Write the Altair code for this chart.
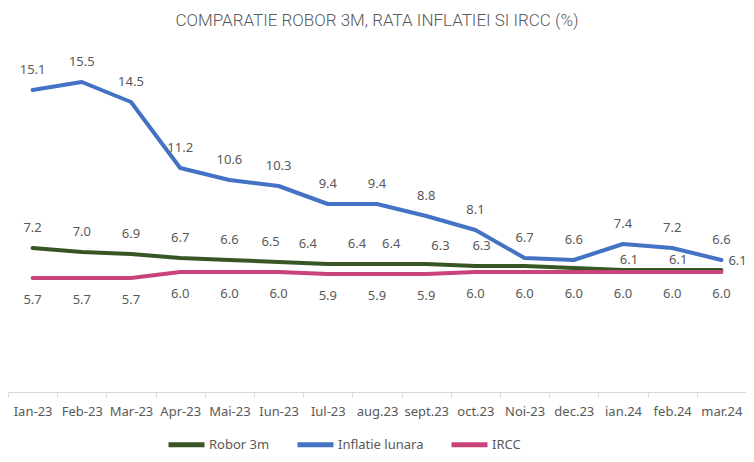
import altair as alt
import pandas as pd

months = ["Ian-23", "Feb-23", "Mar-23", "Apr-23", "Mai-23", "Iun-23", "Iul-23", "aug.23",
          "sept.23", "oct.23", "Noi-23", "dec.23", "ian.24", "feb.24", "mar.24"]
robor = [7.2, 7.0, 6.9, 6.7, 6.6, 6.5, 6.4, 6.4, 6.4, 6.3, 6.3, 6.2, 6.1, 6.1, 6.1]
inflatie = [15.1, 15.5, 14.5, 11.2, 10.6, 10.3, 9.4, 9.4, 8.8, 8.1, 6.7, 6.6, 7.4, 7.2, 6.6]
ircc = [5.7, 5.7, 5.7, 6.0, 6.0, 6.0, 5.9, 5.9, 5.9, 6.0, 6.0, 6.0, 6.0, 6.0, 6.0]
robor_label_shown = [True] * 11 + [False] + [True] * 3

series_names = ["Robor 3m", "Inflatie lunara", "IRCC"]
series_colors = ["#375623", "#4472C4", "#C9437A"]
title_text = "COMPARATIE ROBOR 3M, RATA INFLATIEI SI IRCC (%)"

rows = []
for name, vals in zip(series_names, [robor, inflatie, ircc]):
    for i, (m, v) in enumerate(zip(months, vals)):
        show = robor_label_shown[i] if name == "Robor 3m" else True
        rows.append({"month": m, "idx": i, "series": name, "value": v, "show": show,
                     "last": m == months[-1]})
df = pd.DataFrame(rows)

FONT = "Noto Sans"
LABEL_COLOR = "#595959"
STEP = 738 / 15

x_enc = alt.X("month:O", sort=months,
              scale=alt.Scale(type="point", padding=0.5),
              axis=alt.Axis(title=None, labelAngle=0, labelFont=FONT, labelFontSize=13,
                            labelColor=LABEL_COLOR, domainColor="#D9D9D9", tickColor="#D9D9D9",
                            tickSize=5, tickOffset=-STEP / 2, labelOffset=STEP / 2,
                            labelPadding=8, grid=False))
y_enc = alt.Y("value:Q", scale=alt.Scale(domain=[0, 17.5], nice=False, zero=True), axis=None)

base = alt.Chart(df).encode(x=x_enc, y=y_enc)

lines = base.mark_line(strokeWidth=4, strokeCap="round", strokeJoin="round").encode(
    color=alt.Color("series:N",
                    scale=alt.Scale(domain=series_names, range=series_colors),
                    sort=series_names,
                    legend=alt.Legend(title=None, orient="none", direction="horizontal",
                                      legendX=158, legendY=382, symbolType="stroke",
                                      symbolSize=1296, symbolStrokeWidth=5,
                                      labelFont=FONT, labelFontSize=13, labelColor=LABEL_COLOR,
                                      columnPadding=17, labelOffset=2, padding=0))
)

txt_style = dict(font=FONT, fontSize=13, color=LABEL_COLOR)
fmt = alt.Text("value:Q", format=".1f")
is_robor = (alt.datum.series == "Robor 3m") & alt.datum.show


def green(cond, **kw):
    return base.transform_filter(is_robor & cond).mark_text(
        baseline="middle", **txt_style, **kw).encode(text=fmt)


blue_labels = base.transform_filter(alt.datum.series == "Inflatie lunara").mark_text(
    baseline="middle", dy=-20, **txt_style).encode(text=fmt)

green_layers = [
    green(alt.datum.idx < 5, dy=-20),
    green(alt.datum.idx == 5, dy=-20, dx=-8),
    green((alt.datum.idx >= 6) & (alt.datum.idx <= 7), dy=-20, dx=-20),
    green((alt.datum.idx >= 8) & (alt.datum.idx <= 9), dy=-20, dx=-35),
    green(alt.datum.idx == 10, dy=-20, dx=-43),
    green((alt.datum.idx > 10) & (~alt.datum.last), dy=-10, dx=6),
    green(alt.datum.last, dy=-9, dx=7, align="left"),
]

pink_labels = base.transform_filter(alt.datum.series == "IRCC").mark_text(
    baseline="middle", dy=22, **txt_style).encode(text=fmt)

chart = alt.layer(lines, blue_labels, *green_layers, pink_labels).properties(
    width=738, height=350,
    background="white",
    title=alt.TitleParams(title_text, font="Roboto", fontSize=17,
                          fontWeight=300, color=LABEL_COLOR, anchor="middle",
                          baseline="bottom", offset=15, dy=20),
    autosize=alt.AutoSizeParams(type="none"),
    padding={"left": 0, "top": 34, "right": 0, "bottom": 62},
).configure_view(stroke=None)

chart.save("out.html", embed_options={"renderer": "svg", "actions": False})
